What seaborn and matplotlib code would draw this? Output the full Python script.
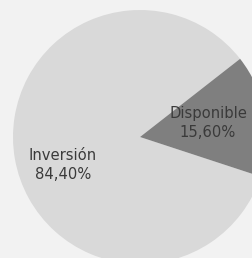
import numpy as np
import matplotlib
matplotlib.use("Agg")
import matplotlib.pyplot as plt
import seaborn as sns

categories = ["Inversión", "Disponible"]
values = [84.40, 15.60]
value_labels = ["84,40%", "15,60%"]
colors = ["#d9d9d9", "#7f7f7f"]

sns.set_style("white")
plt.rcParams["font.family"] = ["DejaVu Sans"]

W, H = 252, 258
fig = plt.figure(figsize=(W / 100, H / 100), dpi=100, facecolor="#f2f2f2")
ax = fig.add_axes([0, 0, 1, 1])
ax.set_facecolor("#f2f2f2")

cx, cy, R = 140, 137, 127
wedges, _ = ax.pie(values, colors=colors, startangle=38, counterclock=True,
                   wedgeprops=dict(linewidth=0))

# label placement as fraction of radius and angle offset
label_r = [0.645, 0.547]
label_ang_off = [10, 1.7]
for w, cat, vl, lr, off in zip(wedges, categories, value_labels, label_r, label_ang_off):
    mid = np.deg2rad((w.theta1 + w.theta2) / 2 + off)
    x, y = lr * np.cos(mid), lr * np.sin(mid)
    ax.text(x, y, f"{cat}\n{vl}", ha="center", va="center", fontsize=10.6,
            color="#3a3a3a", linespacing=1.3)

ax.set_xlim(-cx / R, (W - cx) / R)
ax.set_ylim((cy - H) / R, cy / R)
ax.set_aspect("auto")
ax.axis("off")

fig.savefig("out.png", dpi=100, facecolor=fig.get_facecolor())
